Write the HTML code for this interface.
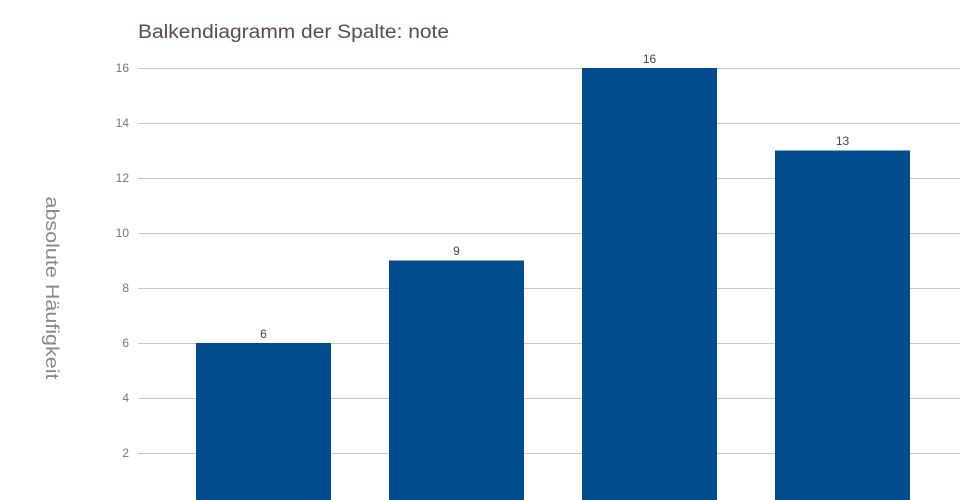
<!DOCTYPE html>
<html><head><meta charset="utf-8"><style>body{margin:0;background:#fff}svg{display:block}</style></head><body>
<svg width="960" height="500" xmlns="http://www.w3.org/2000/svg" font-family="Liberation Sans, sans-serif">
<rect width="960" height="500" fill="#fff"/>
<text x="138" y="38" font-size="19" fill="#5b4b58" textLength="311" lengthAdjust="spacingAndGlyphs">Balkendiagramm der Spalte: note</text>
<g stroke="#c8c8c4" stroke-width="1">
<line x1="138" x2="960" y1="68.5" y2="68.5"/>
<line x1="138" x2="960" y1="123.5" y2="123.5"/>
<line x1="138" x2="960" y1="178.5" y2="178.5"/>
<line x1="138" x2="960" y1="233.5" y2="233.5"/>
<line x1="138" x2="960" y1="288.5" y2="288.5"/>
<line x1="138" x2="960" y1="343.5" y2="343.5"/>
<line x1="138" x2="960" y1="398.5" y2="398.5"/>
<line x1="138" x2="960" y1="453.5" y2="453.5"/>
</g>
<g font-size="12" fill="#777" text-anchor="end">
<text x="129" y="72">16</text><text x="129" y="127">14</text><text x="129" y="182">12</text><text x="129" y="237">10</text>
<text x="129" y="292">8</text><text x="129" y="347">6</text><text x="129" y="402">4</text><text x="129" y="457">2</text>
</g>
<text transform="translate(46,288) rotate(90)" text-anchor="middle" font-size="18" fill="#888" textLength="183" lengthAdjust="spacingAndGlyphs">absolute Häufigkeit</text>
<g fill="#014c8f">
<rect x="196" y="343" width="135" height="157"/>
<rect x="389" y="260.5" width="135" height="240"/>
<rect x="582" y="68" width="135" height="432"/>
<rect x="775" y="150.5" width="135" height="350"/>
</g>
<g font-size="12" fill="#444" text-anchor="middle">
<text x="263.5" y="338">6</text><text x="456.5" y="255">9</text><text x="649.5" y="63">16</text><text x="842.5" y="145">13</text>
</g>
</svg>
</body></html>
